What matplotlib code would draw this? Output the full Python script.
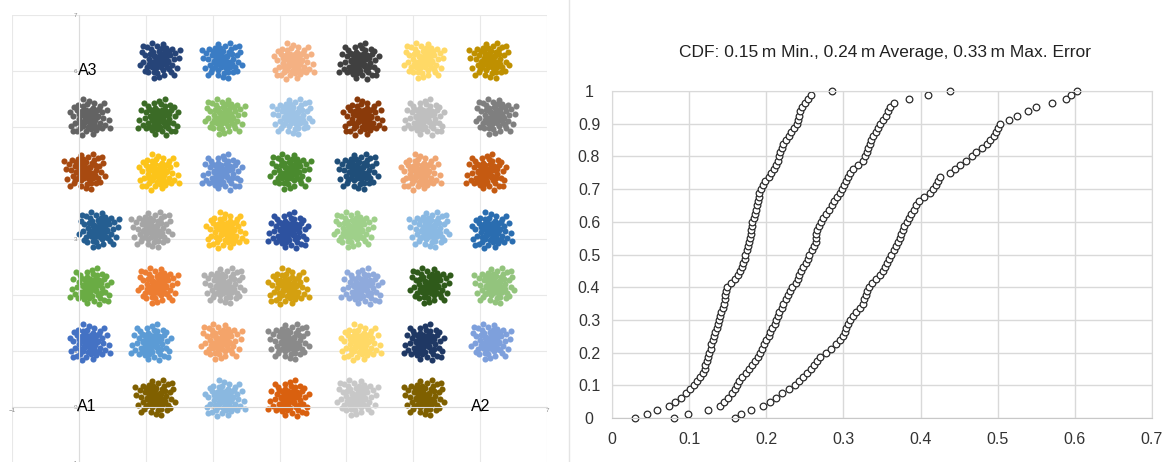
import numpy as np
import matplotlib.pyplot as plt
from matplotlib.lines import Line2D

plt.rcParams['font.family'] = ['Liberation Sans', 'DejaVu Sans']

# ---- left panel: measured positions, one cloud per test point ----
cluster_x = [1.20, 2.15, 3.20, 4.20, 5.15, 6.15,
             0.15, 1.20, 2.17, 3.20, 4.24, 5.17, 6.22,
             0.10, 1.18, 2.15, 3.15, 4.18, 5.10, 6.10,
             0.29, 1.10, 2.19, 3.14, 4.10, 5.25, 6.16,
             0.19, 1.17, 2.18, 3.12, 4.24, 5.24, 6.22,
             0.15, 1.09, 2.12, 3.15, 4.20, 5.17, 6.15,
             1.15, 2.17, 3.15, 4.15, 5.17]
cluster_y = [6.18] * 6 + [5.18] * 7 + [4.20] * 7 + [3.16] * 7 + [2.16] * 7 + [1.16] * 7 + [0.16] * 5
cluster_colors = ['#264478', '#3a7cc4', '#f4b183', '#404040', '#ffd966', '#bf9000',
                  '#636363', '#3b6b26', '#8cc168', '#9dc3e6', '#8a3a0a', '#bfbfbf', '#7f7f7f',
                  '#a84a10', '#fcc419', '#6a93d4', '#4a8a2e', '#1f4e79', '#f0a672', '#c55a11',
                  '#255e91', '#a5a5a5', '#ffc427', '#2d52a0', '#9fd08a', '#8ab9e3', '#2a6db0',
                  '#6aac44', '#ed7d31', '#b0b0b0', '#d4a010', '#8faadc', '#2f5a1a', '#93c47d',
                  '#4472c4', '#5b9bd5', '#f4a46a', '#8a8a8a', '#ffd966', '#1f3864', '#7ea0dc',
                  '#806000', '#8ab8e0', '#d9600f', '#c8c8c8', '#7f6000']

# scatter of single fixes around a cluster centre (hand-read pattern)
spread_dx = [-0.02, 0.05, -0.08, 0.11, -0.13, 0.02, 0.07, -0.05, 0.15, -0.17, 0.00, 0.09, -0.10,
             0.18, -0.20, 0.04, -0.03, 0.13, -0.14, 0.21, -0.23, 0.06, -0.06, 0.01, 0.10, -0.11,
             0.16, -0.09, 0.24, -0.26, 0.03, -0.01, 0.12, -0.18, 0.19, -0.04, 0.08, -0.15, 0.27,
             -0.29, 0.30, -0.24, 0.14, -0.07, 0.05, -0.12, 0.22, -0.20, 0.00, 0.10, -0.16, 0.17,
             0.33, -0.32, 0.07, -0.09, 0.25, -0.27, 0.35, -0.12, 0.02, -0.03, 0.08, -0.07]
spread_dy = [0.01, -0.03, 0.06, 0.04, -0.05, 0.11, -0.12, -0.10, -0.01, 0.03, -0.04, 0.09, 0.12,
             0.08, -0.09, 0.17, -0.17, -0.09, 0.16, -0.06, 0.08, 0.03, 0.00, 0.06, -0.05, -0.02,
             0.14, -0.15, 0.02, -0.01, -0.09, 0.14, 0.18, -0.16, -0.15, 0.20, -0.19, 0.09, 0.11,
             0.12, -0.10, -0.14, 0.00, 0.07, 0.08, -0.08, 0.16, 0.19, -0.22, 0.13, -0.04, -0.11,
             0.04, -0.06, 0.23, -0.24, -0.19, 0.20, 0.15, 0.25, 0.00, 0.04, -0.01, -0.06]

anchor_names = ['A1', 'A2', 'A3']
anchor_x = [0.12, 6.00, 0.14]
anchor_y = [0.0, 0.0, 6.0]

# ---- right panel: sorted localisation errors (m) of the three cases ----
err_min = [0.030, 0.045, 0.058, 0.074, 0.082, 0.090, 0.096, 0.101, 0.106, 0.110, 0.114, 0.118,
           0.120, 0.121, 0.123, 0.125, 0.126, 0.128, 0.129, 0.131, 0.132, 0.134, 0.136, 0.138,
           0.139, 0.140, 0.142, 0.144, 0.145, 0.146, 0.147, 0.148, 0.149, 0.154, 0.159, 0.163,
           0.166, 0.168, 0.170, 0.172, 0.173, 0.175, 0.177, 0.178, 0.179, 0.180, 0.180, 0.181,
           0.182, 0.184, 0.185, 0.187, 0.188, 0.189, 0.190, 0.191, 0.193, 0.196, 0.199, 0.203,
           0.206, 0.210, 0.213, 0.215, 0.216, 0.218, 0.220, 0.222, 0.225, 0.229, 0.232, 0.236,
           0.240, 0.241, 0.242, 0.244, 0.246, 0.250, 0.254, 0.258, 0.285]
err_avg = [0.080, 0.098, 0.125, 0.140, 0.145, 0.150, 0.155, 0.159, 0.162, 0.165, 0.169, 0.174,
           0.178, 0.182, 0.186, 0.189, 0.192, 0.194, 0.197, 0.200, 0.203, 0.205, 0.208, 0.211,
           0.213, 0.215, 0.217, 0.220, 0.222, 0.225, 0.228, 0.231, 0.234, 0.238, 0.241, 0.243,
           0.245, 0.248, 0.251, 0.254, 0.256, 0.259, 0.262, 0.264, 0.265, 0.265, 0.266, 0.268,
           0.271, 0.273, 0.277, 0.281, 0.285, 0.288, 0.292, 0.295, 0.298, 0.301, 0.303, 0.306,
           0.309, 0.313, 0.319, 0.325, 0.328, 0.330, 0.332, 0.334, 0.336, 0.339, 0.342, 0.345,
           0.348, 0.352, 0.355, 0.358, 0.361, 0.366, 0.385, 0.410, 0.438]
err_max = [0.160, 0.167, 0.180, 0.196, 0.205, 0.213, 0.220, 0.230, 0.237, 0.243, 0.248, 0.253,
           0.258, 0.262, 0.266, 0.270, 0.277, 0.284, 0.291, 0.296, 0.300, 0.302, 0.304, 0.306,
           0.309, 0.312, 0.316, 0.321, 0.325, 0.327, 0.329, 0.331, 0.333, 0.337, 0.342, 0.347,
           0.351, 0.354, 0.357, 0.359, 0.362, 0.365, 0.368, 0.371, 0.373, 0.375, 0.377, 0.379,
           0.382, 0.385, 0.388, 0.391, 0.394, 0.398, 0.405, 0.412, 0.416, 0.420, 0.423, 0.425,
           0.438, 0.445, 0.451, 0.459, 0.467, 0.472, 0.480, 0.486, 0.490, 0.495, 0.498, 0.501,
           0.503, 0.515, 0.525, 0.540, 0.550, 0.570, 0.588, 0.595, 0.603]

title = 'CDF: 0.15\u2009m Min., 0.24\u2009m Average, 0.33\u2009m Max. Error'

fig = plt.figure(figsize=(11.71, 4.62), dpi=100)

# left scatter
ax1 = fig.add_axes([0.0102, -0.002, 0.457, 0.9697])
dx = np.array(spread_dx) * 0.9
dy = np.array(spread_dy) * 1.3
flips = [(1, 1), (-1, 1), (1, -1), (-1, -1)]
for i, (cx, cy, col) in enumerate(zip(cluster_x, cluster_y, cluster_colors)):
    fx, fy = flips[i % 4]
    ax1.plot(cx + fx * dx, cy + fy * dy, 'o', color=col, ms=4.4, mew=0)
for name, x, y in zip(anchor_names, anchor_x, anchor_y):
    ax1.text(x, y, name, ha='center', va='center', fontsize=11.5, color='black')
ax1.set_xlim(-1, 7)
ax1.set_ylim(-1, 7)
ax1.set_xticks(range(-1, 8))
ax1.set_yticks(range(-1, 8))
ax1.grid(True, color='#e8e8e8', lw=0.8)
ax1.set_axisbelow(True)
for s in ['top', 'right']:
    ax1.spines[s].set_visible(False)
ax1.spines['left'].set_position(('data', 0))
ax1.spines['bottom'].set_position(('data', 0))
ax1.spines['left'].set_color('#dcdcdc')
ax1.spines['bottom'].set_color('#dcdcdc')
ax1.tick_params(length=0, labelsize=4.5, labelcolor='#888888', pad=1)

# right CDF
ax2 = fig.add_axes([0.5226, 0.0952, 0.4611, 0.7078])
for err in [err_min, err_avg, err_max]:
    vals = np.sort(np.array(err))
    cdf = np.arange(len(vals)) / (len(vals) - 1)
    ax2.plot(vals, cdf, 'o', mfc='white', mec='#2b2b2b', ms=4.8, mew=0.9, ls='none', clip_on=False)
ax2.set_xlim(0, 0.7)
ax2.set_ylim(0, 1)
ax2.set_xticks(np.arange(0, 0.71, 0.1))
ax2.set_yticks(np.arange(0, 1.01, 0.1))
ax2.set_xticklabels(['0', '0.1', '0.2', '0.3', '0.4', '0.5', '0.6', '0.7'])
ax2.set_yticklabels(['0', '0.1', '0.2', '0.3', '0.4', '0.5', '0.6', '0.7', '0.8', '0.9', '1'])
ax2.grid(True, color='#d9d9d9', lw=1)
ax2.set_axisbelow(True)
for s in ax2.spines.values():
    s.set_color('#d9d9d9')
ax2.spines['bottom'].set_color('#c8c8c8')
ax2.tick_params(length=0, labelsize=11.5, labelcolor='#333333')
ax2.tick_params(axis='x', pad=10)
ax2.tick_params(axis='y', pad=16.5)
for lab in ax2.get_yticklabels():
    lab.set_horizontalalignment('center')

fig.text(0.7558, 0.8853, title, ha='center', va='center', fontsize=12.5, color='#222222')
fig.add_artist(Line2D([569 / 1171, 569 / 1171], [0, 1], color='#e4e4e4', lw=1))

fig.savefig('out.png', dpi=100, facecolor='white')
